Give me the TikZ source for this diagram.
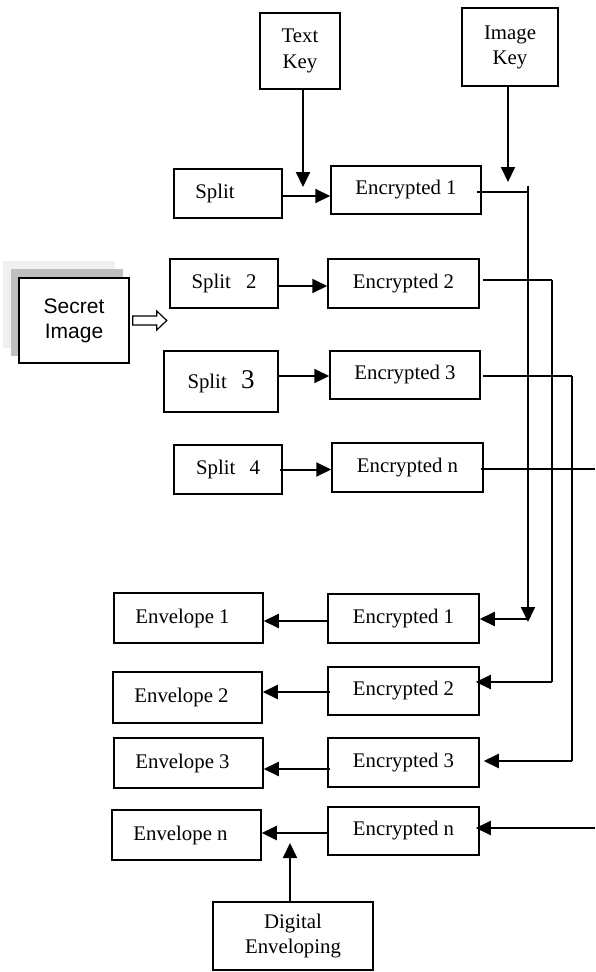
\documentclass[tikz,border=0pt]{standalone}
\usepackage{fontspec}
\setmainfont{Liberation Serif}
\newfontfamily\arialfont{Liberation Sans}
\usetikzlibrary{arrows.meta,backgrounds}
\begin{document}
\begin{tikzpicture}[x=1pt,y=-1pt,
  box/.style={draw, line width=1.5pt, inner sep=0pt, align=center, anchor=center,
    font=\fontsize{20.8}{25.5}\selectfont},
  arr/.style={-{Triangle[length=15pt,width=14pt]}, line width=2pt},
  conn/.style={line width=1.4pt},
  vline/.style={line width=2pt},
  hollow/.style={draw, line width=1.2pt, fill=white, line join=miter}
]
\useasboundingbox (0,0) rectangle (595,972);

% keys
\node[box, minimum width=80pt, minimum height=76pt] (textkey) at (300,51) {Text\\Key};
\node[box, minimum width=96pt, minimum height=78pt] (imagekey) at (510,47) {\raisebox{2pt}{\begin{tabular}{@{}c@{}}Image\\Key\end{tabular}}};

% splits and encrypted (top)
\node[box, minimum width=108pt, minimum height=49pt] (split1) at (228,193.5) {Split\hspace{26pt}};
\node[box, minimum width=150pt, minimum height=48pt] (enc1) at (406,190) {Encrypted 1};
\node[box, minimum width=108pt, minimum height=49pt] (split2) at (224,283.5) {Split\hspace{10pt} 2};
\node[box, minimum width=151pt, minimum height=49pt] (enc2) at (403.5,283.5) {Encrypted 2};
\node[box, minimum width=114pt, minimum height=61pt] (split3) at (221,381.5) {Split\hspace{9pt} {\fontsize{27}{30}\selectfont 3}};
\node[box, minimum width=150pt, minimum height=48pt] (enc3) at (405,375) {Encrypted 3};
\node[box, minimum width=108pt, minimum height=49pt] (split4) at (228,469.5) {Split\hspace{9pt} 4};
\node[box, minimum width=151pt, minimum height=49pt] (encn) at (407.5,467.5) {Encrypted n};

% secret image
\node[box, minimum width=110pt, minimum height=85pt, font=\arialfont\fontsize{21}{25}\selectfont, fill=white] (secret) at (74,320.5) {\raisebox{6pt}{\begin{tabular}{@{}c@{}}Secret\\Image\end{tabular}}};
\begin{pgfonlayer}{background}
  \fill[black!6] ([shift={(-15,-16)}]secret.north west) rectangle ([shift={(-15,-16)}]secret.south east);
  \fill[black!25] ([shift={(-7,-8)}]secret.north west) rectangle ([shift={(-7,-8)}]secret.south east);
\end{pgfonlayer}
\draw[hollow] ([xshift=3pt,yshift=4.5pt]secret.east) -- ++(24,0) -- ++(0,-5) -- ++(10,9.5) -- ++(-10,9.5) -- ++(0,-5) -- ++(-24,0) -- cycle;

% lower encrypted and envelopes
\node[box, minimum width=151pt, minimum height=49pt] (lenc1) at (403.5,618.5) {Encrypted 1};
\node[box, minimum width=151pt, minimum height=48pt] (lenc2) at (403.5,691) {Encrypted 2};
\node[box, minimum width=151pt, minimum height=49pt] (lenc3) at (403.5,762.5) {Encrypted 3};
\node[box, minimum width=151pt, minimum height=48pt] (lencn) at (403.5,831) {Encrypted n};
\node[box, minimum width=149pt, minimum height=50pt] (env1) at (188.5,618) {Envelope 1\hspace{12pt}};
\node[box, minimum width=149pt, minimum height=51pt] (env2) at (187.5,697.5) {Envelope 2\hspace{12pt}};
\node[box, minimum width=149pt, minimum height=50pt] (env3) at (188.5,763) {Envelope 3\hspace{12pt}};
\node[box, minimum width=149pt, minimum height=50pt] (envn) at (186.5,835) {Envelope n\hspace{12pt}};
\node[box, minimum width=160pt, minimum height=68pt] (digital) at (293,936) {Digital\\Enveloping};

% coordinates
\coordinate (tkend) at (303,187);
\coordinate (ikend) at (508,182);
\coordinate (h1) at (528,192);
\coordinate (v1top) at (528,186);
\coordinate (v1bot) at (528,622);
\coordinate (v2) at (552,280);
\coordinate (v2b) at (552,682);
\coordinate (v3) at (572,376);
\coordinate (v3b) at (572,761);
\coordinate (rn1) at (595,469);
\coordinate (rn2) at (595,828);
\coordinate (dgend) at (290,843);

% key arrows
\draw[arr] (textkey.south -| tkend) -- (tkend);
\draw[arr] (imagekey.south -| ikend) -- (ikend);

% split -> encrypted
\draw[arr] ([yshift=-2.5pt]split1.east) -- ([yshift=-2.5pt]split1.east -| enc1.west);
\draw[arr] ([xshift=-2pt,yshift=-2.5pt]split2.east) -- ([yshift=-2.5pt]split2.east -| enc2.west);
\draw[arr] ([xshift=-2pt,yshift=5.5pt]split3.east) -- ([yshift=5.5pt]split3.east -| enc3.west);
\draw[arr] ([xshift=-3pt]split4.east) -- (split4.east -| encn.west);

% routing on the right
\draw[conn] ([xshift=-5pt,yshift=-2pt]enc1.east) -- (h1);
\draw[arr] (v1top) -- (v1bot);
\draw[arr] ([yshift=3pt]v1bot) -- ([yshift=3pt]v1bot -| lenc1.east);

\draw[conn] ([xshift=3pt,yshift=3.5pt]enc2.east) -- (v2);
\draw[vline] (v2) -- (v2b);
\draw[arr] (v2b) -- ([xshift=-4pt]v2b -| lenc2.east);

\draw[conn] ([xshift=2pt,yshift=-1pt]enc3.east) -- (v3);
\draw[vline] (v3) -- (v3b);
\draw[arr] (v3b) -- ([xshift=4pt]v3b -| lenc3.east);

\draw[conn] ([xshift=-3pt,yshift=-1.5pt]encn.east) -- (rn1);
\draw[arr] (rn2) -- ([xshift=-4pt]rn2 -| lencn.east);

% encrypted -> envelope
\draw[arr] ([yshift=-2.5pt]lenc1.west) -- ([yshift=-2.5pt]lenc1.west -| env1.east);
\draw[arr] ([xshift=3pt,yshift=-1pt]lenc2.west) -- ([yshift=-1pt]lenc2.west -| env2.east);
\draw[arr] ([xshift=3pt,yshift=-6.5pt]lenc3.west) -- ([yshift=-6.5pt]lenc3.west -| env3.east);
\draw[arr] ([yshift=-2pt]lencn.west) -- ([yshift=-2pt]lencn.west -| envn.east);

% digital enveloping
\draw[arr] (digital.north -| dgend) -- (dgend);
\end{tikzpicture}
\end{document}
